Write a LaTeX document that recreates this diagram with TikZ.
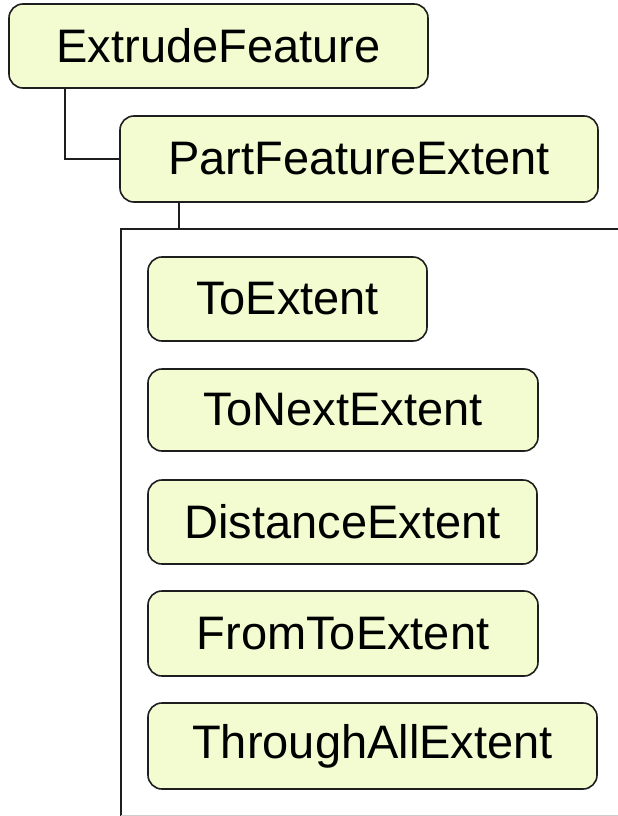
\documentclass[tikz,border=0pt]{standalone}
\usepackage{fontspec}
\setmainfont{Liberation Sans}
\definecolor{boxfill}{RGB}{243,251,208}
\definecolor{boxline}{RGB}{30,30,30}
\begin{document}
\begin{tikzpicture}[x=1pt,y=-1pt,
  box/.style={draw=boxline, line width=1.6pt, fill=boxfill, rounded corners=14pt,
    inner sep=0pt, outer sep=0pt, font=\fontsize{47}{50}\selectfont, text=black},
  link/.style={draw=boxline, line width=1.8pt}]
\useasboundingbox (0,0) rectangle (618,816);
\fill[white] (0,0) rectangle (618,816);
% container
\coordinate (ctop) at (179,229);
\draw[link] (640,229) -- (121,229) -- (121,820);
\draw[gray!40, line width=1pt] (121,815.5) -- (640,815.5);
% nodes
\node[box, minimum width=419pt, minimum height=84pt] (ef) at (218.5,46) {ExtrudeFeature};
\node[box, minimum width=478pt, minimum height=86pt] (pfe) at (359,159) {PartFeatureExtent};
\node[box, minimum width=279pt, minimum height=84pt] (te) at (287.5,299) {ToExtent};
\node[box, minimum width=390pt, minimum height=82pt] (tne) at (343,410) {ToNextExtent};
\node[box, minimum width=389pt, minimum height=84pt] (de) at (342.5,522) {DistanceExtent};
\node[box, minimum width=390pt, minimum height=85pt] (fte) at (343,633.5) {FromToExtent};
\node[box, minimum width=449pt, minimum height=86pt] (tae) at (372.5,746) {ThroughAllExtent};
% connectors
\draw[link] ([xshift=56pt]ef.south west) |- (pfe.west);
\draw[link] (ctop |- pfe.south) -- (ctop);
\end{tikzpicture}
\end{document}
